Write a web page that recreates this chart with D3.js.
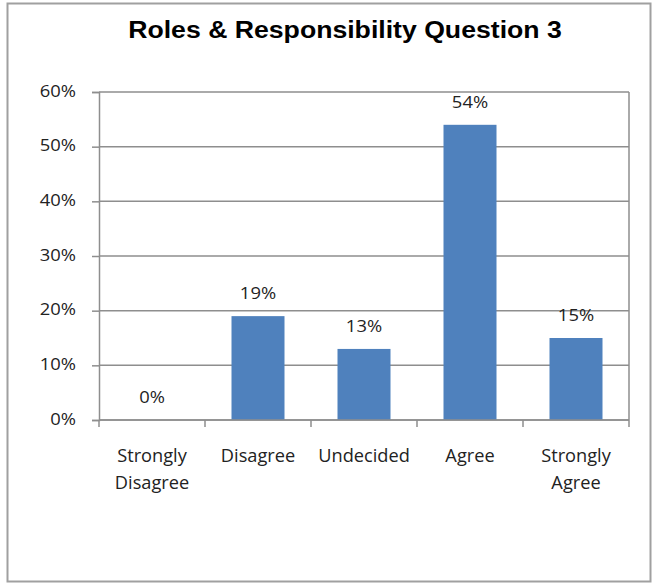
<!DOCTYPE html>
<html>
<head>
<meta charset="utf-8">
<script src="https://cdn.jsdelivr.net/npm/d3@7"></script>
<style>
  html, body { margin: 0; padding: 0; background: #fff; }
  svg { display: block; }
</style>
</head>
<body>
<svg id="chart" width="656" height="585"></svg>
<script>
// Survey responses for "Roles & Responsibility Question 3"
const categories = [["Strongly", "Disagree"], ["Disagree"], ["Undecided"], ["Agree"], ["Strongly", "Agree"]];
const values = [0, 0.19, 0.13, 0.54, 0.15];
const yTicks = [0, 0.1, 0.2, 0.3, 0.4, 0.5, 0.6];
const title = "Roles & Responsibility Question 3";

const svg = d3.select("#chart");
const gridColor = "#8e8e8e";
const barColor = "#4f81bd";
const textColor = "#222";
const labelFont = "'Open Sans', 'DejaVu Sans', sans-serif";
const pct = d3.format(".0%");
const stretch = 1.15; // slightly wide lettering for the small labels

// outer chart frame
svg.append("rect")
  .attr("x", 7.5).attr("y", 3.5)
  .attr("width", 643).attr("height", 578)
  .attr("fill", "#fff")
  .attr("stroke", "#a0a0a0").attr("stroke-width", 2);

svg.append("text")
  .attr("transform", "translate(345,38) scale(1.11,1)")
  .attr("text-anchor", "middle")
  .attr("font-family", "'Liberation Sans', Arial, sans-serif")
  .attr("font-weight", "bold")
  .attr("font-size", 24)
  .attr("fill", "#000")
  .text(title);

const plot = { left: 99, right: 629, top: 92, bottom: 420 };

const x = d3.scaleBand()
  .domain(d3.range(categories.length))
  .range([plot.left, plot.right])
  .paddingInner(0.5).paddingOuter(0.25);

const y = d3.scaleLinear().domain([0, 0.6]).range([plot.bottom, plot.top]);

// horizontal gridlines
svg.append("g")
  .selectAll("line")
  .data(yTicks)
  .join("line")
  .attr("x1", plot.left).attr("x2", plot.right)
  .attr("y1", d => y(d)).attr("y2", d => y(d))
  .attr("stroke", gridColor).attr("stroke-width", 1.5);

// plot area right border
svg.append("line")
  .attr("x1", plot.right).attr("x2", plot.right)
  .attr("y1", plot.top).attr("y2", plot.bottom)
  .attr("stroke", gridColor).attr("stroke-width", 1.5);

// y axis line and ticks
const yAxis = svg.append("g")
  .attr("transform", `translate(${plot.left},0)`)
  .call(d3.axisLeft(y).tickValues(yTicks).tickFormat("").tickSize(7));
yAxis.select(".domain").attr("stroke", gridColor).attr("stroke-width", 1.5);
yAxis.selectAll(".tick line").attr("stroke", gridColor).attr("stroke-width", 1.5);

// y tick labels
svg.append("g")
  .selectAll("text")
  .data(yTicks)
  .join("text")
  .attr("transform", d => `translate(${plot.left - 23},${y(d) + 4.5}) scale(${stretch},1)`)
  .attr("text-anchor", "end")
  .attr("font-family", labelFont).attr("font-size", 16).attr("fill", textColor)
  .text(d => pct(d));

// bars
svg.append("g")
  .selectAll("rect")
  .data(values)
  .join("rect")
  .attr("x", (d, i) => x(i))
  .attr("y", d => y(d))
  .attr("width", x.bandwidth())
  .attr("height", d => y(0) - y(d))
  .attr("fill", barColor);

// x axis with ticks at category boundaries
const boundaries = d3.range(categories.length + 1).map(i => x(i) !== undefined ? x(i) - x.step() * 0.25 : plot.right);
svg.append("line")
  .attr("x1", plot.left).attr("x2", plot.right)
  .attr("y1", plot.bottom).attr("y2", plot.bottom)
  .attr("stroke", gridColor).attr("stroke-width", 1.5);
svg.append("g")
  .selectAll("line")
  .data(boundaries)
  .join("line")
  .attr("x1", d => d).attr("x2", d => d)
  .attr("y1", plot.bottom).attr("y2", plot.bottom + 7)
  .attr("stroke", gridColor).attr("stroke-width", 1.5);

// category labels
const cat = svg.append("g")
  .selectAll("text")
  .data(categories)
  .join("text")
  .attr("transform", (d, i) => `translate(${x(i) + x.bandwidth() / 2},462) scale(1.04,1)`)
  .attr("text-anchor", "middle")
  .attr("font-family", labelFont)
  .attr("font-size", 17.5)
  .attr("fill", textColor);
cat.selectAll("tspan")
  .data(d => d)
  .join("tspan")
  .attr("x", 0)
  .attr("dy", (d, i) => i === 0 ? 0 : 27)
  .text(d => d);

// value labels
svg.append("g")
  .selectAll("text")
  .data(values)
  .join("text")
  .attr("transform", (d, i) => `translate(${x(i) + x.bandwidth() / 2},${y(d) - 17}) scale(${stretch},1)`)
  .attr("text-anchor", "middle")
  .attr("font-family", labelFont)
  .attr("font-size", 16)
  .attr("fill", textColor)
  .text(d => pct(d));
</script>
</body>
</html>
